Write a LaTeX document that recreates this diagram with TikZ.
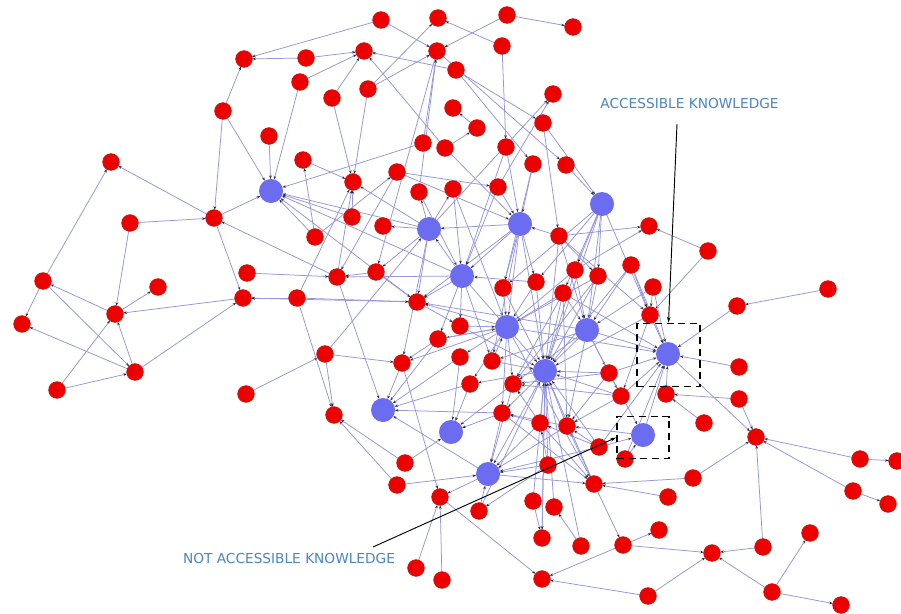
\documentclass[tikz,border=0pt]{standalone}
\usepackage{fontspec}
\usepackage{tikz}
\usetikzlibrary{arrows.meta, backgrounds}
\newfontfamily\annofont{DejaVu Sans}
\definecolor{NodeRed}{RGB}{238, 0, 0}
\definecolor{NodeRim}{RGB}{190, 30, 15}
\definecolor{NodeBlue}{RGB}{108, 108, 240}
\definecolor{EdgeBlue}{RGB}{150, 150, 218}
\definecolor{ArrowDark}{RGB}{40, 40, 70}
\definecolor{AnnoBlue}{RGB}{74, 134, 196}

\tikzset{
  rnode/.style={circle, fill=NodeRed, draw=NodeRim, line width=0.6pt, minimum size=0.5cm, inner sep=0pt, outer sep=0pt},
  bnode/.style={circle, fill=NodeBlue, minimum size=0.72cm, inner sep=0pt, outer sep=0pt},
  edge/.style={draw=EdgeBlue, line width=0.65pt, -{Stealth[length=3pt, width=2.2pt, color=ArrowDark]}},
  anno/.style={font=\annofont\fontsize{11.7}{14}\selectfont, text=AnnoBlue, inner sep=0pt},
  dashbox/.style={draw=black, line width=1.4pt, dash pattern=on 6pt off 4pt, inner sep=0pt},
  pointer/.style={draw=black, line width=0.8pt, -{Stealth[length=5pt, width=3pt]}}
}

\begin{document}
\begin{tikzpicture}[x=0.03cm, y=-0.03cm]
    \useasboundingbox (0,0) rectangle (901,613);

    % Red nodes
    \foreach \n/\x/\y in {
      r1/381/20, r2/438/18, r3/507/15, r4/573/27, r5/244/59, r6/306/58, r7/364/51, r8/437/51, r9/502/46, r10/300/82,
      r11/332/98, r12/368/89, r13/456/70, r14/223/111, r15/453/108, r16/477/128, r17/553/94, r18/543/123, r19/269/136, r20/423/143,
      r21/445/148, r22/506/147, r23/533/164, r24/566/165, r25/111/162, r26/303/160, r27/353/182, r28/397/172, r29/419/192, r30/453/189,
      r31/498/187, r32/214/218, r33/130/223, r34/352/217, r35/383/226, r36/315/237, r37/559/236, r38/649/226, r39/708/251, r40/247/273,
      r41/337/277, r42/376/272, r43/575/270, r44/598/276, r45/631/265, r46/43/281, r47/158/287, r48/243/298, r49/297/298, r50/417/302,
      r51/503/288, r52/536/282, r53/653/287, r54/563/293, r55/828/289, r56/115/314, r57/22/324, r58/737/306, r59/650/315, r60/460/326,
      r61/438/339, r62/325/354, r63/460/357, r64/492/361, r65/402/363, r66/609/373, r67/739/367, r68/135/372, r69/470/384, r70/513/384,
      r71/57/390, r72/246/394, r73/621/396, r74/666/394, r75/739/399, r76/334/415, r77/502/413, r78/540/423, r79/567/426, r80/704/423,
      r81/756/437, r82/599/447, r83/625/459, r84/405/463, r85/548/465, r86/860/459, r87/897/461, r88/397/485, r89/594/484, r90/693/478,
      r91/440/497, r92/668/497, r93/853/491, r94/888/504, r95/533/501, r96/554/507, r97/479/511, r98/659/530, r99/810/533, r100/542/538,
      r101/581/546, r102/623/545, r103/712/553, r104/763/547, r105/416/568, r106/442/580, r107/542/579, r108/648/596, r109/772/592, r110/841/605}
      \node[rnode] (\n) at (\x,\y) {};

    % Blue nodes
    \foreach \n/\x/\y in {
      b1/271/191, b2/429/229, b3/520/224, b4/602/204, b5/462/276, b6/507/327, b7/587/330,
      b8/668/354, b9/545/371, b10/383/410, b11/451/432, b12/643/435, b13/488/474}
      \node[bnode] (\n) at (\x,\y) {};

    % Edges
    \begin{scope}[on background layer]
      \fill[white] (0,0) rectangle (901,613);
      \foreach \a/\b in {
        r1/r5, r1/r8, r6/r5, r6/r7, r10/r7, r11/r7, r13/r7, r21/r7, r12/r2, r12/r8, r3/r8, r9/r2, r3/r4, r9/r22,
        r20/r8, r29/r8, r8/r24, r8/r42, r13/r23, r13/r18, r16/r15, r21/r16, r14/r5, r14/r32, r14/b1, r19/b1,
        r10/b1, r20/b1, r11/r27, r12/r27, r26/r27, r36/r26, r34/r27, r41/r27, b2/r27, r34/b1, r36/b1, r50/b1,
        b2/b1, b5/b1, r32/b1,
        r32/r25, r33/r32, r33/r56, r46/r25, r56/r46, r56/r47, r32/r48, r41/r32, r40/r41, r49/r48, r50/r48,
        r48/r56, r46/r57, r68/r57, r71/r56, r71/r68, r68/r56, r46/r68, r68/r48, r72/r62, r62/r65, r62/r76,
        r49/r76, r62/b2, r88/r76, r84/r76, r49/r27, r49/r50, r28/r41, r36/r28, r42/r41, b5/r41, r41/b10,
        r21/b3, r28/r31, r28/b3, r31/b3, r31/r17, b2/r17, r18/b4, r18/r37, r24/b4, r23/r51, r22/b5, b2/r29,
        b2/r30, b3/b2, b2/r35, r37/b3, b3/b5, r52/b5, b5/b2, b4/r52, r30/b6,
        b4/r59, b4/r43, b4/r44, b4/r54, r39/r38, r37/r38, r43/r38, r39/r59, r45/r59, r53/r59, r37/r59,
        r55/r58, r58/b8, r67/b8, r59/b8, r53/b8, r45/b8,
        r51/b6, r52/b6, r60/b6, r54/b6, r44/b6, r43/b6, r64/b6, b6/r50, b6/r65, b6/r70, b6/r61, b6/b8, b6/r89,
        r43/b7, r44/b7, r54/b7, r37/b7, b4/b7, b7/r79, b7/b8, b7/r50, b7/r70, r45/b7,
        r52/b9, r54/b9, r64/b9, r85/b9, r78/b9, r82/b9, r89/b9, r95/b9, r96/b9, r101/b9, r73/b9, r66/b9,
        r79/b9, r43/b9, r37/b9, b4/b9, r97/b9, r100/b9, b3/b9, b5/b9, r51/b9, r60/b9,
        r66/b8, r73/b8, r74/b8, b12/b8, r83/b8, r82/b8, r54/b8,
        r82/r79, r73/r79, b12/r79, r66/r79, r54/r79, r89/r79, r66/r70, r78/r70, r73/r70, r44/r70,
        r79/r77, r78/r77, r85/r78, r77/r89, r78/r89,
        r50/r60, b5/r50, b5/r61, b5/r64, b2/r50, b2/r65, b3/r50, b3/r64, r42/r50, r61/r65, r61/b10,
        r63/b10, r69/b10, r77/b10, b13/b10, r65/b10, r63/b11, r69/b11, r77/b11, r84/b11, r88/b13,
        b13/r91, r77/b13, r70/b13, r65/r91, r105/r91, r106/r91, r91/r107, r97/b13, r82/b12, r83/b12,
        r29/b5, r30/b5, b5/r60, r61/b6, b2/r42, b3/r52, b3/r51, b3/b6, r23/b3, r31/b5, r22/b3,
        b6/r69, b6/r63, b6/r77, b9/r77, b9/r69, r70/b11, b9/b13, r78/b13, r79/b13, r85/b13, r82/b13,
        b9/r100, b7/r66, b7/r73, b7/b9, b7/r64, r53/b7, r59/b9, r59/r73, r44/b9, r45/b9, b4/r51,
        r37/r44, r54/r70, r66/b12, r82/r78,
        r75/r74, r75/r81, r80/r74, b8/r81, r86/r81, r86/r87, r93/r81, r93/r94, r90/r81, r104/r81,
        r90/r89, r92/r89, r89/r102, r102/r98, r102/r103, r102/r107, r104/r103, r108/r103, r109/r103,
        r109/r99, r109/r110, r108/r107, r95/r100, r101/r96, b13/r89, r85/r97}
        \draw[edge] (\a) -- (\b);
    \end{scope}

    % Highlighted parts
    \node[dashbox, minimum width=1.89cm, minimum height=1.89cm] (box1) at (668.5,355) {};
    \node[dashbox, minimum width=1.56cm, minimum height=1.26cm] (box2) at (643,437.5) {};

    % Labels
    \node[anno] (acc) at (689.5,104) {ACCESSIBLE KNOWLEDGE};
    \node[anno] (nacc) at (289,558) {NOT ACCESSIBLE KNOWLEDGE};
    \coordinate (accFrom) at (677,124);
    \coordinate (naccFrom) at (373,547);
    \draw[pointer] (accFrom) -- (box1.north);
    \draw[pointer] (naccFrom) -- (box2.west);
\end{tikzpicture}
\end{document}
